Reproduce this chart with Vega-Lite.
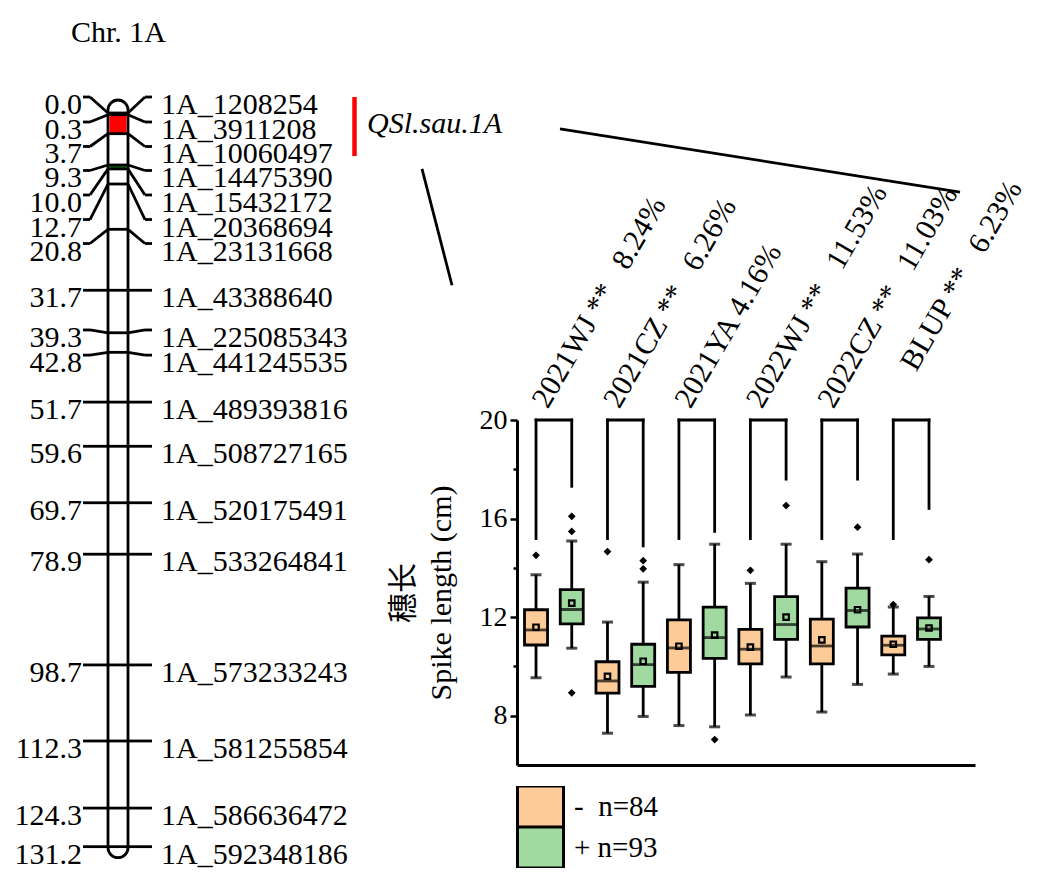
{
  "$schema": "https://vega.github.io/schema/vega-lite/v6.json",
  "padding": 0,
  "background": "white",
  "spacing": 0,
  "bounds": "flush",
  "config": {
    "view": {"stroke": null},
    "font": "Liberation Serif",
    "text": {"font": "Liberation Serif", "color": "black"},
    "axis": {"labelFont": "Liberation Serif", "titleFont": "Liberation Serif, Noto Sans CJK SC"},
    "legend": {"labelFont": "Liberation Serif"}
  },
  "datasets": {
    "chrom": [{"chrom": "Chr. 1A", "start": 0, "end": 131.2}],
    "bands": [
      {"kind": "QTL", "start": 0.3, "end": 3.7},
      {"kind": "peak", "start": 9.3, "end": 10.0}
    ],
    "qtl": [{"qtl": "QSl.sau.1A", "top": -2.86, "bottom": 7.7}],
    "markers": [
      {"pos": 0.0, "lab": -2.86, "name": "1A_1208254"},
      {"pos": 0.3, "lab": 1.61, "name": "1A_3911208"},
      {"pos": 3.7, "lab": 5.99, "name": "1A_10060497"},
      {"pos": 9.3, "lab": 10.28, "name": "1A_14475390"},
      {"pos": 10.0, "lab": 14.66, "name": "1A_15432172"},
      {"pos": 12.7, "lab": 19.05, "name": "1A_20368694"},
      {"pos": 20.8, "lab": 23.34, "name": "1A_23131668"},
      {"pos": 31.7, "lab": 31.7, "name": "1A_43388640"},
      {"pos": 39.3, "lab": 38.8, "name": "1A_225085343"},
      {"pos": 42.8, "lab": 43.3, "name": "1A_441245535"},
      {"pos": 51.7, "lab": 51.7, "name": "1A_489393816"},
      {"pos": 59.6, "lab": 59.6, "name": "1A_508727165"},
      {"pos": 69.7, "lab": 69.7, "name": "1A_520175491"},
      {"pos": 78.9, "lab": 78.9, "name": "1A_533264841"},
      {"pos": 98.7, "lab": 98.7, "name": "1A_573233243"},
      {"pos": 112.3, "lab": 112.3, "name": "1A_581255854"},
      {"pos": 124.3, "lab": 124.3, "name": "1A_586636472"},
      {"pos": 131.2, "lab": 131.2, "name": "1A_592348186"}
    ],
    "boxes": [
      {"box": "2021WJ -", "grp": "-", "min": 9.54, "q1": 10.87, "median": 11.48, "q3": 12.30, "max": 13.72, "mean": 11.59},
      {"box": "2021WJ +", "grp": "+", "min": 10.74, "q1": 11.73, "median": 12.31, "q3": 13.12, "max": 15.09, "mean": 12.57},
      {"box": "2021CZ -", "grp": "-", "min": 7.29, "q1": 8.92, "median": 9.41, "q3": 10.19, "max": 11.80, "mean": 9.60},
      {"box": "2021CZ +", "grp": "+", "min": 7.97, "q1": 9.19, "median": 10.07, "q3": 10.90, "max": 13.42, "mean": 10.21},
      {"box": "2021YA -", "grp": "-", "min": 7.60, "q1": 9.76, "median": 10.75, "q3": 11.89, "max": 14.13, "mean": 10.82},
      {"box": "2021YA +", "grp": "+", "min": 7.55, "q1": 10.33, "median": 11.17, "q3": 12.41, "max": 14.96, "mean": 11.27},
      {"box": "2022WJ -", "grp": "-", "min": 8.03, "q1": 10.10, "median": 10.70, "q3": 11.50, "max": 13.37, "mean": 10.78},
      {"box": "2022WJ +", "grp": "+", "min": 9.57, "q1": 11.10, "median": 11.70, "q3": 12.83, "max": 14.96, "mean": 12.00},
      {"box": "2022CZ -", "grp": "-", "min": 8.15, "q1": 10.10, "median": 10.83, "q3": 11.92, "max": 14.25, "mean": 11.08},
      {"box": "2022CZ +", "grp": "+", "min": 9.27, "q1": 11.60, "median": 12.27, "q3": 13.18, "max": 14.56, "mean": 12.30},
      {"box": "BLUP -", "grp": "-", "min": 9.69, "q1": 10.47, "median": 10.86, "q3": 11.23, "max": 12.41, "mean": 10.90},
      {"box": "BLUP +", "grp": "+", "min": 10.00, "q1": 11.10, "median": 11.52, "q3": 11.97, "max": 12.84, "mean": 11.56}
    ],
    "outliers": [
      {"box": "2021WJ -", "value": 14.51},
      {"box": "2021WJ +", "value": 16.09},
      {"box": "2021WJ +", "value": 15.48},
      {"box": "2021WJ +", "value": 8.93},
      {"box": "2021CZ -", "value": 14.66},
      {"box": "2021CZ +", "value": 14.29},
      {"box": "2021CZ +", "value": 13.96},
      {"box": "2021YA +", "value": 7.03},
      {"box": "2022WJ -", "value": 13.90},
      {"box": "2022WJ +", "value": 16.53},
      {"box": "2022CZ +", "value": 15.65},
      {"box": "BLUP -", "value": 12.51},
      {"box": "BLUP +", "value": 14.33}
    ],
    "pairs": [
      {"env": "2021WJ", "lo": "2021WJ -", "hi": "2021WJ +", "left": 15.19, "right": 17.31, "label": "2021WJ ** \u20028.24%"},
      {"env": "2021CZ", "lo": "2021CZ -", "hi": "2021CZ +", "left": 15.19, "right": 14.89, "label": "2021CZ ** \u20026.26%"},
      {"env": "2021YA", "lo": "2021YA -", "hi": "2021YA +", "left": 15.19, "right": 15.48, "label": "2021YA 4.16%"},
      {"env": "2022WJ", "lo": "2022WJ -", "hi": "2022WJ +", "left": 15.19, "right": 17.6, "label": "2022WJ ** \u200211.53%"},
      {"env": "2022CZ", "lo": "2022CZ -", "hi": "2022CZ +", "left": 15.19, "right": 17.6, "label": "2022CZ ** \u200211.03%"},
      {"env": "BLUP", "lo": "BLUP -", "hi": "BLUP +", "left": 15.19, "right": 16.41, "label": "BLUP ** \u20026.23%"}
    ]
  },
  "resolve": {"scale": {"x": "independent", "y": "independent"}},
  "hconcat": [
    {
      "width": 517,
      "height": 893,
      "layer": [
        {
          "data": {"name": "chrom"},
          "mark": {"type": "rect", "fill": "white", "stroke": "black", "strokeWidth": 2.8, "cornerRadius": 10, "yOffset": -13, "y2Offset": 11},
          "encoding": {
            "x": {"datum": 108, "type": "quantitative", "scale": {"domain": [0, 517], "nice": false, "zero": false}, "axis": null},
            "x2": {"datum": 128},
            "y": {"field": "start", "type": "quantitative", "scale": {"domain": [-20.207, 139.485], "reverse": true, "nice": false, "zero": false}, "axis": null},
            "y2": {"field": "end"}
          }
        },
        {
          "data": {"name": "bands"},
          "transform": [{"filter": "datum.kind === 'QTL'"}],
          "mark": {"type": "rect", "fill": "#FF0000"},
          "encoding": {
            "x": {"datum": 109.4, "type": "quantitative"},
            "x2": {"datum": 126.6},
            "y": {"field": "start", "type": "quantitative"},
            "y2": {"field": "end"}
          }
        },
        {
          "data": {"name": "bands"},
          "transform": [{"filter": "datum.kind === 'peak'"}],
          "mark": {"type": "rect", "fill": "#0B6E0B"},
          "encoding": {
            "x": {"datum": 109.4, "type": "quantitative"},
            "x2": {"datum": 126.6},
            "y": {"field": "start", "type": "quantitative"},
            "y2": {"field": "end"}
          }
        },
        {
          "data": {"name": "markers"},
          "mark": {"type": "rule", "stroke": "black", "strokeWidth": 2.8},
          "encoding": {
            "x": {"datum": 83, "type": "quantitative"},
            "x2": {"datum": 90},
            "y": {"field": "lab", "type": "quantitative"},
            "y2": {"field": "lab"}
          }
        },
        {
          "data": {"name": "markers"},
          "mark": {"type": "rule", "stroke": "black", "strokeWidth": 2.8},
          "encoding": {
            "x": {"datum": 90, "type": "quantitative"},
            "x2": {"datum": 108},
            "y": {"field": "lab", "type": "quantitative"},
            "y2": {"field": "pos"}
          }
        },
        {
          "data": {"name": "markers"},
          "mark": {"type": "rule", "stroke": "black", "strokeWidth": 2.8},
          "encoding": {
            "x": {"datum": 108, "type": "quantitative"},
            "x2": {"datum": 128},
            "y": {"field": "pos", "type": "quantitative"},
            "y2": {"field": "pos"}
          }
        },
        {
          "data": {"name": "markers"},
          "mark": {"type": "rule", "stroke": "black", "strokeWidth": 2.8},
          "encoding": {
            "x": {"datum": 128, "type": "quantitative"},
            "x2": {"datum": 145},
            "y": {"field": "pos", "type": "quantitative"},
            "y2": {"field": "lab"}
          }
        },
        {
          "data": {"name": "markers"},
          "mark": {"type": "rule", "stroke": "black", "strokeWidth": 2.8},
          "encoding": {
            "x": {"datum": 145, "type": "quantitative"},
            "x2": {"datum": 152},
            "y": {"field": "lab", "type": "quantitative"},
            "y2": {"field": "lab"}
          }
        },
        {
          "data": {"name": "markers"},
          "mark": {"type": "text", "align": "right", "baseline": "alphabetic", "dy": 17, "fontSize": 30},
          "encoding": {
            "x": {"datum": 82, "type": "quantitative"},
            "y": {"field": "lab", "type": "quantitative"},
            "text": {"field": "pos", "type": "quantitative", "format": ".1f"}
          }
        },
        {
          "data": {"name": "markers"},
          "mark": {"type": "text", "align": "left", "baseline": "alphabetic", "dy": 17, "fontSize": 30},
          "encoding": {
            "x": {"datum": 161, "type": "quantitative"},
            "y": {"field": "lab", "type": "quantitative"},
            "text": {"field": "name"}
          }
        },
        {
          "data": {"name": "chrom"},
          "mark": {"type": "text", "align": "left", "baseline": "alphabetic", "fontSize": 30},
          "encoding": {
            "x": {"datum": 71, "type": "quantitative"},
            "y": {"datum": -12.7, "type": "quantitative"},
            "text": {"field": "chrom"}
          }
        },
        {
          "data": {"name": "qtl"},
          "mark": {"type": "rule", "stroke": "#FF0000", "strokeWidth": 4.5},
          "encoding": {
            "x": {"datum": 354.5, "type": "quantitative"},
            "y": {"field": "top", "type": "quantitative"},
            "y2": {"field": "bottom"}
          }
        },
        {
          "data": {"name": "qtl"},
          "mark": {"type": "text", "align": "left", "baseline": "alphabetic", "fontSize": 30, "fontStyle": "italic"},
          "encoding": {
            "x": {"datum": 367, "type": "quantitative"},
            "y": {"datum": 3.58, "type": "quantitative"},
            "text": {"field": "qtl"}
          }
        },
        {
          "data": {"name": "qtl"},
          "mark": {"type": "rule", "stroke": "black", "strokeWidth": 2.8},
          "encoding": {
            "x": {"datum": 422, "type": "quantitative"},
            "x2": {"datum": 452},
            "y": {"datum": 10.0, "type": "quantitative"},
            "y2": {"datum": 30.8}
          }
        },
        {
          "data": {"name": "qtl"},
          "mark": {"type": "rule", "stroke": "black", "strokeWidth": 2.8},
          "encoding": {
            "x": {"datum": 560, "type": "quantitative"},
            "x2": {"datum": 960},
            "y": {"datum": 2.86, "type": "quantitative"},
            "y2": {"datum": 14.13}
          }
        }
      ]
    },
    {
      "vconcat": [
        {
          "width": 458,
          "height": 410,
          "data": {"name": "pairs"},
          "encoding": {
            "x": {"field": "lo", "type": "nominal", "axis": null,
              "scale": {"domain": ["2021WJ -", "2021WJ +", "2021CZ -", "2021CZ +", "2021YA -", "2021YA +", "2022WJ -", "2022WJ +", "2022CZ -", "2022CZ +", "BLUP -", "BLUP +"], "paddingInner": 0.356, "paddingOuter": 0.588, "align": 0.179}},
            "y": {"datum": 0, "type": "quantitative", "scale": {"domain": [0, 1]}, "axis": null},
            "text": {"field": "label"}
          },
          "layer": [
            {
              "transform": [{"filter": "datum.env !== 'BLUP'"}],
              "mark": {"type": "text", "angle": 300, "align": "left", "baseline": "alphabetic", "fontSize": 30, "dx": 6, "dy": 10}
            },
            {
              "transform": [{"filter": "datum.env === 'BLUP'"}],
              "mark": {"type": "text", "angle": 300, "align": "left", "baseline": "alphabetic", "fontSize": 30, "dx": 44, "dy": 1}
            }
          ]
        },
        {
          "width": 458,
          "height": 345,
          "layer": [
            {
              "data": {"name": "boxes"},
              "mark": {"type": "rule", "stroke": "black", "strokeWidth": 2.8},
              "encoding": {
                "x": {"field": "box", "type": "nominal",
                  "scale": {"domain": ["2021WJ -", "2021WJ +", "2021CZ -", "2021CZ +", "2021YA -", "2021YA +", "2022WJ -", "2022WJ +", "2022CZ -", "2022CZ +", "BLUP -", "BLUP +"], "paddingInner": 0.356, "paddingOuter": 0.588, "align": 0.179},
                  "axis": {"labels": false, "ticks": false, "title": null, "domainColor": "black", "domainWidth": 3}},
                "y": {"field": "min", "type": "quantitative",
                  "scale": {"domain": [6, 20], "nice": false, "zero": false},
                  "axis": {
                    "values": [8, 10, 12, 14, 16, 18, 20],
                    "labelExpr": "datum.value % 4 === 0 ? datum.label : ''",
                    "tickSize": {"condition": {"test": "datum.value % 4 === 0", "value": 7}, "value": 4},
                    "tickColor": "black", "tickWidth": 2.5,
                    "domainColor": "black", "domainWidth": 3,
                    "grid": false,
                    "labelFontSize": 28, "labelColor": "black", "labelPadding": 3,
                    "title": ["穗长", "Spike length (cm)"],
                    "titleFontSize": 30, "titleFontWeight": "normal", "titleColor": "black",
                    "titlePadding": 23, "titleLineHeight": 38
                  }},
                "y2": {"field": "max"}
              }
            },
            {
              "data": {"name": "boxes"},
              "mark": {"type": "tick", "color": "black", "size": 11, "thickness": 3},
              "encoding": {
                "x": {"field": "box", "type": "nominal"},
                "y": {"field": "min", "type": "quantitative"}
              }
            },
            {
              "data": {"name": "boxes"},
              "mark": {"type": "tick", "color": "black", "size": 11, "thickness": 3},
              "encoding": {
                "x": {"field": "box", "type": "nominal"},
                "y": {"field": "max", "type": "quantitative"}
              }
            },
            {
              "data": {"name": "boxes"},
              "mark": {"type": "bar", "stroke": "black", "strokeWidth": 2.8},
              "encoding": {
                "x": {"field": "box", "type": "nominal"},
                "y": {"field": "q1", "type": "quantitative"},
                "y2": {"field": "q3"},
                "fill": {"field": "grp", "type": "nominal",
                  "scale": {"domain": ["-", "+"], "range": ["#FDCB98", "#A0DAA0"]},
                  "legend": {
                    "orient": "none", "legendX": 516, "legendY": 786,
                    "title": null, "padding": 0,
                    "symbolType": "M-1.4375,-1.28H1.4375V1.28H-1.4375Z", "symbolSize": 1024,
                    "symbolOffset": 7,
                    "symbolStrokeColor": "black", "symbolStrokeWidth": 3, "symbolOpacity": 1,
                    "clipHeight": 41,
                    "rowPadding": 0, "labelFontSize": 29, "labelColor": "black", "labelOffset": 16,
                    "labelExpr": "datum.label === '-' ? '-\u2002n=84' : '+ n=93'"
                  }}
              }
            },
            {
              "data": {"name": "boxes"},
              "mark": {"type": "tick", "color": "black", "size": 23, "thickness": 2.8},
              "encoding": {
                "x": {"field": "box", "type": "nominal"},
                "y": {"field": "median", "type": "quantitative"}
              }
            },
            {
              "data": {"name": "boxes"},
              "mark": {"type": "point", "shape": "square", "filled": false, "stroke": "black", "strokeWidth": 2.2, "size": 30, "opacity": 1},
              "encoding": {
                "x": {"field": "box", "type": "nominal"},
                "y": {"field": "mean", "type": "quantitative"}
              }
            },
            {
              "data": {"name": "outliers"},
              "mark": {"type": "point", "shape": "diamond", "filled": true, "color": "black", "size": 60, "opacity": 1},
              "encoding": {
                "x": {"field": "box", "type": "nominal"},
                "y": {"field": "value", "type": "quantitative"}
              }
            },
            {
              "data": {"name": "pairs"},
              "mark": {"type": "rule", "stroke": "black", "strokeWidth": 2.8, "strokeCap": "square"},
              "encoding": {
                "x": {"field": "lo", "type": "nominal"},
                "y": {"field": "left", "type": "quantitative"},
                "y2": {"datum": 20}
              }
            },
            {
              "data": {"name": "pairs"},
              "mark": {"type": "rule", "stroke": "black", "strokeWidth": 2.8, "strokeCap": "square"},
              "encoding": {
                "x": {"field": "hi", "type": "nominal"},
                "y": {"field": "right", "type": "quantitative"},
                "y2": {"datum": 20}
              }
            },
            {
              "data": {"name": "pairs"},
              "mark": {"type": "rule", "stroke": "black", "strokeWidth": 2.8, "strokeCap": "square"},
              "encoding": {
                "x": {"field": "lo", "type": "nominal", "bandPosition": 0.5},
                "x2": {"field": "hi", "bandPosition": 0.5},
                "y": {"datum": 20, "type": "quantitative"}
              }
            }
          ]
        }
      ],
      "spacing": 10,
      "bounds": "flush",
      "resolve": {"scale": {"x": "shared", "y": "independent"}, "axis": {"x": "independent", "y": "independent"}}
    }
  ]
}
